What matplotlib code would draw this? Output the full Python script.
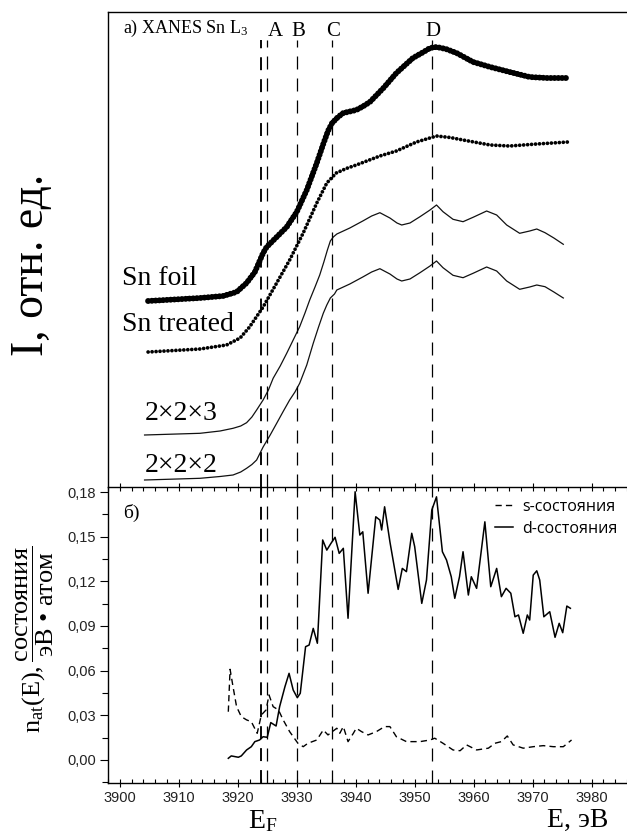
import matplotlib
matplotlib.use('Agg')
import matplotlib.pyplot as plt
import matplotlib.transforms as mtransforms
from matplotlib.ticker import MultipleLocator, FuncFormatter

plt.rcParams['mathtext.fontset'] = 'custom'
plt.rcParams['mathtext.rm'] = 'Liberation Serif'
plt.rcParams['mathtext.it'] = 'Liberation Serif:italic'
plt.rcParams['mathtext.bf'] = 'Liberation Serif:bold'
SERIF = 'Liberation Serif'
SANS = 'Liberation Sans'

# ---------------- data: upper panel (XANES, arbitrary units) ----------------
foil_E = [3904.8, 3913.6, 3917.5, 3919.8, 3921.5, 3922.9, 3924.3, 3924.9, 3926.6, 3928.3,
          3930.0, 3931.7, 3933.4, 3934.5, 3935.3, 3936.0, 3937.0, 3937.9, 3939.0, 3940.1,
          3941.2, 3942.4, 3944.7, 3946.9, 3949.7, 3951.5, 3952.6, 3953.7, 3955.3, 3957.1,
          3959.9, 3962.8, 3966.1, 3969.5, 3972.4, 3976.0]
foil_I = [186, 189, 191, 195, 204, 215, 234, 240, 250, 260,
          275, 297, 324, 343, 356, 364, 370, 374, 375.5, 377,
          380.5, 385, 399, 414, 429, 435, 439, 440, 438, 434,
          425, 420, 415, 410, 409, 409]

treated_E = [3904.8, 3913.6, 3918.1, 3920.4, 3922.0, 3924.3, 3926.6, 3928.8, 3931.1, 3933.4,
             3935.1, 3936.7, 3938.4, 3940.1, 3944.1, 3946.9, 3950.3, 3953.7, 3956.0, 3958.2,
             3962.8, 3966.1, 3970.7, 3976.0]
treated_I = [135, 138, 142, 149, 160, 180, 204, 227, 254, 284,
             304, 314, 318.5, 322, 331, 336, 345, 351, 349.5, 347,
             342, 341, 343, 345]

c223_E = [3904.2, 3913.6, 3917.0, 3919.2, 3920.5, 3921.5, 3922.4, 3923.2, 3924.3, 3925.2,
          3926.0, 3927.2, 3928.3, 3929.4, 3930.5, 3931.4, 3932.2, 3933.1, 3933.9, 3934.6,
          3935.2, 3935.7, 3936.2, 3936.8, 3939.0, 3941.2, 3942.7, 3944.1, 3945.8, 3947.0,
          3947.8, 3949.2, 3950.9, 3952.6, 3953.7, 3954.8, 3956.5, 3958.2, 3959.9, 3962.2,
          3963.9, 3965.6, 3967.8, 3969.5, 3970.7, 3972.1, 3973.6, 3975.2]
c223_I = [52, 53.7, 56, 58.7, 61, 64.3, 70, 77, 87, 97,
          108.7, 121, 133.7, 147, 160.3, 174, 187, 200, 212, 225,
          237, 246, 250, 253, 259, 266, 271, 274.3, 269, 264,
          262, 264, 270.3, 277, 282, 275.3, 267.7, 265.3, 269.7, 276,
          272, 262, 253.7, 256, 258, 254.3, 249, 242.7]

c222_E = [3904.2, 3913.6, 3917.0, 3919.2, 3920.5, 3921.5, 3922.4, 3923.2, 3924.3, 3925.5,
          3926.6, 3927.7, 3928.8, 3929.7, 3930.5, 3931.7, 3932.8, 3933.7, 3934.5, 3935.1,
          3935.7, 3936.4, 3936.8, 3939.0, 3941.2, 3942.7, 3944.1, 3945.8, 3947.0, 3947.8,
          3949.2, 3950.9, 3952.6, 3953.7, 3954.8, 3956.5, 3958.2, 3959.9, 3962.2, 3963.9,
          3965.6, 3967.8, 3969.5, 3970.7, 3972.1, 3973.6, 3975.2]
c222_I = [7, 8.7, 10.5, 12, 15, 18.7, 22.5, 27, 40, 52,
          63.7, 75.5, 87, 95, 103.7, 122, 143.7, 160, 173.7, 182,
          189, 193, 197, 203, 210, 215, 218.3, 213, 208, 206,
          208, 214.3, 221, 226, 219.3, 211.7, 209.3, 213.7, 220, 216,
          206, 197.7, 200, 202, 200.3, 195, 189]

# ---------------- data: lower panel (DOS) ----------------
d_E = [3918.4, 3918.9, 3920.1, 3920.6, 3921.5, 3922.3, 3922.9, 3923.7, 3924.3, 3925.0,
       3925.6, 3926.5, 3927.1, 3928.0, 3928.7, 3929.4, 3930.1, 3930.6, 3931.5, 3932.1,
       3932.8, 3933.5, 3934.4, 3935.1, 3935.8, 3936.5, 3937.2, 3937.9, 3938.7, 3939.9,
       3940.7, 3941.2, 3942.1, 3943.4, 3944.1, 3944.4, 3944.9, 3945.8, 3947.2, 3947.9,
       3948.6, 3949.5, 3950.0, 3951.2, 3952.0, 3952.9, 3953.7, 3954.7, 3955.4, 3956.2,
       3956.8, 3957.6, 3958.2, 3959.1, 3959.6, 3960.5, 3961.9, 3962.9, 3963.9, 3964.7,
       3965.5, 3966.3, 3967.0, 3967.6, 3968.4, 3969.1, 3969.5, 3970.1, 3970.7, 3971.2,
       3971.9, 3972.9, 3973.8, 3974.5, 3975.1, 3975.8, 3976.4]
d_n = [0.0011, 0.0027, 0.0018, 0.0027, 0.0067, 0.0089, 0.0123, 0.0134, 0.0156, 0.0152,
       0.0251, 0.0228, 0.0358, 0.0492, 0.0582, 0.0470, 0.0418, 0.0448, 0.0761, 0.0772,
       0.0884, 0.0784, 0.1478, 0.1410, 0.1455, 0.1496, 0.1388, 0.1422, 0.0952, 0.1802,
       0.1511, 0.1533, 0.1120, 0.1634, 0.1612, 0.1545, 0.1701, 0.1466, 0.1146, 0.1287,
       0.1265, 0.1523, 0.1433, 0.1052, 0.1209, 0.1679, 0.1768, 0.1399, 0.1343, 0.1231,
       0.1086, 0.1231, 0.1399, 0.1108, 0.1231, 0.1153, 0.1600, 0.1164, 0.1287, 0.1097,
       0.1153, 0.1120, 0.0962, 0.0974, 0.0851, 0.0974, 0.0940, 0.1242, 0.1271, 0.1209,
       0.0962, 0.0996, 0.0824, 0.0918, 0.0855, 0.1034, 0.1019]

s_E = [3918.4, 3918.7, 3919.2, 3919.8, 3920.6, 3921.5, 3922.3, 3923.3, 3924.0, 3924.8,
       3925.3, 3926.0, 3926.9, 3927.7, 3928.8, 3930.2, 3931.1, 3931.9, 3933.4, 3934.5,
       3935.3, 3936.8, 3937.3, 3937.9, 3938.7, 3939.6, 3940.1, 3941.0, 3942.1, 3943.5,
       3944.9, 3945.8, 3946.9, 3948.6, 3950.9, 3952.6, 3953.4, 3954.8, 3956.5, 3957.7,
       3958.8, 3960.5, 3962.5, 3963.6, 3964.7, 3965.7, 3966.7, 3968.4, 3970.1, 3971.8,
       3973.5, 3975.2, 3976.6]
s_n = [0.0324, 0.0609, 0.0492, 0.0358, 0.0291, 0.0269, 0.0257, 0.0179, 0.0302, 0.0336,
       0.0437, 0.0358, 0.0336, 0.0269, 0.0190, 0.0112, 0.0089, 0.0112, 0.0134, 0.0201,
       0.0168, 0.0213, 0.0179, 0.0224, 0.0123, 0.0179, 0.0213, 0.0190, 0.0168, 0.0190,
       0.0224, 0.0224, 0.0156, 0.0123, 0.0123, 0.0134, 0.0146, 0.0112, 0.0067, 0.0062,
       0.0101, 0.0067, 0.0079, 0.0112, 0.0123, 0.0161, 0.0101, 0.0079, 0.0089, 0.0096,
       0.0089, 0.0089, 0.0134]

marker_E = [3924.0, 3925.0, 3930.0, 3936.0, 3953.0]   # E_F, A, B, C, D
peak_labels = ['A', 'B', 'C', 'D']
peak_label_E = [3926.3, 3930.3, 3936.1, 3953.1]
x_ticks = [3900, 3910, 3920, 3930, 3940, 3950, 3960, 3970, 3980]
y_ticks = [0.00, 0.03, 0.06, 0.09, 0.12, 0.15, 0.18]

# ---------------- figure ----------------
W, H = 627, 840
fig = plt.figure(figsize=(W / 100, H / 100), dpi=100)
L = 108 / W
ax1 = fig.add_axes([L, 1 - 487 / H, 1 - L, (487 - 12) / H])
ax2 = fig.add_axes([L, 1 - 783 / H, 1 - L, (783 - 487) / H])

XL = (3898, 3986)
for ax in (ax1, ax2):
    ax.set_xlim(*XL)
    ax.spines['right'].set_visible(False)
    for s in ax.spines.values():
        s.set_linewidth(1.0)

# upper panel
ax1.set_ylim(0, 475)
ax1.spines['bottom'].set_visible(False)
ax1.tick_params(left=False, bottom=False, labelleft=False, labelbottom=False)
ax1.plot(foil_E, foil_I, color='black', lw=4.3, linestyle=(0, (0.01, 0.62)),
         dash_capstyle='round')
ax1.plot(treated_E, treated_I, color='black', lw=2.7, linestyle=(0, (0.01, 1.05)),
         dash_capstyle='round')
ax1.plot(c223_E, c223_I, color='#111111', lw=0.9)
ax1.plot(c222_E, c222_I, color='#111111', lw=0.9)

top_frac = (487 - 40) / 475
for i, e in enumerate(marker_E):
    if i == 0:
        kw = dict(lw=1.35, dashes=(6.9, 4.8))
    else:
        kw = dict(lw=0.9, dashes=(10.4, 7.2))
    ax1.axvline(e, ymin=0, ymax=top_frac, color='black', **kw)
    ax2.axvline(e, color='black', **kw)

trans1 = mtransforms.blended_transform_factory(ax1.transData, ax1.transAxes)
for lab, e in zip(peak_labels, peak_label_E):
    ax1.text(e, (487 - 32) / 475, lab, transform=trans1, ha='center', va='center',
             fontsize=15, family=SERIF)
ax1.text((123 - 108) / 519, (487 - 28) / 475, r'a) XANES Sn L$_3$', transform=ax1.transAxes,
         ha='left', va='center', fontsize=13, family=SERIF)

ax1.text((122 - 108) / 519, (487 - 285) / 475, 'Sn foil', transform=ax1.transAxes,
         ha='left', va='baseline', fontsize=20, family=SERIF)
ax1.text((122 - 108) / 519, (487 - 331) / 475, 'Sn treated', transform=ax1.transAxes,
         ha='left', va='baseline', fontsize=20, family=SERIF)
ax1.text((145 - 108) / 519, (487 - 420) / 475, '2×2×3', transform=ax1.transAxes,
         ha='left', va='baseline', fontsize=20, family=SERIF)
ax1.text((145 - 108) / 519, (487 - 472) / 475, '2×2×2', transform=ax1.transAxes,
         ha='left', va='baseline', fontsize=20, family=SERIF)

# lower panel
ax2.set_ylim(-0.0155, 0.1834)
ax2.plot(s_E, s_n, color='black', lw=1.0, dashes=(4.5, 3.0), label='s-состояния')
ax2.plot(d_E, d_n, color='black', lw=1.1, label='d-состояния')

ax2.xaxis.set_minor_locator(MultipleLocator(2))
ax2.yaxis.set_minor_locator(MultipleLocator(0.015))
ax2.set_xticks(x_ticks)
ax2.set_yticks(y_ticks)
ax2.set_xlim(*XL)
ax2.yaxis.set_major_formatter(FuncFormatter(lambda v, p: f'{v:.2f}'.replace('.', ',')))
ax2.tick_params(axis='x', which='major', direction='inout', length=6, width=0.8,
                top=True, bottom=True, labelsize=10.5, pad=3, colors='black',
                labelcolor='#222222')
ax2.tick_params(axis='x', which='minor', direction='in', length=3, width=0.8,
                top=True, bottom=True)
ax2.tick_params(axis='y', which='major', direction='out', length=5.5, width=0.8,
                labelsize=10.5, pad=3, labelcolor='#222222')
ax2.tick_params(axis='y', which='minor', direction='out', length=4.5, width=0.8)
for lab in ax2.get_xticklabels() + ax2.get_yticklabels():
    lab.set_family(SANS)

leg = ax2.legend(loc='upper left', bbox_to_anchor=((495 - 108) / 519, (783 - 499) / 296),
                 frameon=False, prop={'family': 'Open Sans', 'size': 11.5},
                 handlelength=1.1, handletextpad=0.6, labelspacing=0.35,
                 borderpad=0, borderaxespad=0)

ax2.text((123 - 108) / 519, (783 - 513) / 296, 'б)', transform=ax2.transAxes,
         ha='left', va='center', fontsize=14, family=SERIF)

trans2 = mtransforms.blended_transform_factory(ax2.transData, fig.transFigure)
ax2.text(3924.3, 1 - 820 / H, r'$\mathrm{E_F}$', transform=trans2, ha='center',
         va='center', fontsize=20)
fig.text(608 / W, 1 - 820 / H, 'E, эВ', ha='right', va='center', fontsize=20, family=SERIF)

fig.text(32 / W, 1 - 265 / H, 'I, отн. ед.', rotation=90, ha='center', va='center',
         fontsize=33, family=SERIF)
fig.text(35 / W, 1 - 639 / H,
         r'$\mathrm{n_{at}(E),\dfrac{состояния}{эВ\ •\ атом}}$',
         rotation=90, ha='center', va='center', fontsize=19)

fig.savefig('out.png', dpi=100)
